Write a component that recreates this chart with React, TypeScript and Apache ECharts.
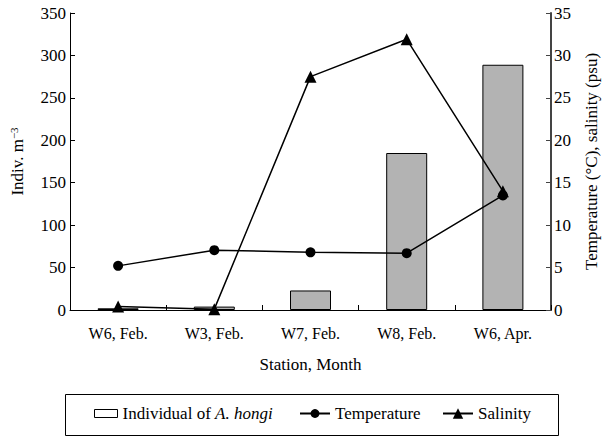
import React, { useEffect, useRef } from "react";
import * as echarts from "echarts";

const categories = ["W6, Feb.", "W3, Feb.", "W7, Feb.", "W8, Feb.", "W6, Apr."];
const individuals = [2, 4, 23, 185, 289];
const temperature = [5.2, 7.05, 6.8, 6.7, 13.5];
const salinity = [0.4, 0.1, 27.5, 31.9, 14.0];
const leftTicks = { min: 0, max: 350, interval: 50 };
const rightTicks = { min: 0, max: 35, interval: 5 };

const BAR_NAME = "Individual of A. hongi";
const FONT = "Liberation Serif";

export default function App() {
  const ref = useRef<HTMLDivElement>(null);
  useEffect(() => {
    if (!ref.current) return;
    const chart = echarts.init(ref.current, undefined, { renderer: "svg" });
    const txt = { fontFamily: FONT, fontSize: 17, color: "#000" };
    chart.setOption({
      animation: false,
      backgroundColor: "#fff",
      grid: { left: 66, right: 48, top: 13, bottom: 128, containLabel: false },
      xAxis: {
        type: "category",
        data: categories,
        boundaryGap: true,
        name: "Station, Month",
        nameLocation: "middle",
        nameGap: 46,
        nameTextStyle: { ...txt, lineHeight: 17 },
        axisLine: { lineStyle: { color: "#000", width: 1 } },
        axisTick: { show: true, inside: true, length: 5, interval: 0, alignWithLabel: false, lineStyle: { color: "#000" } },
        axisLabel: { ...txt, fontSize: 16, margin: 15, interval: 0, lineHeight: 17 },
        splitLine: { show: false },
      },
      yAxis: [
        {
          type: "value",
          min: leftTicks.min,
          max: leftTicks.max,
          interval: leftTicks.interval,
          position: "left",
          name: "{a|Indiv. m}{s|−3}",
          nameLocation: "middle",
          nameRotate: 90,
          nameGap: 43,
          nameTextStyle: {
            ...txt,
            rich: {
              a: { fontFamily: FONT, fontSize: 17, color: "#000" },
              s: { fontFamily: FONT, fontSize: 11, color: "#000", verticalAlign: "top", padding: [0, 0, 8, 0] },
            },
          },
          axisLine: { show: true, lineStyle: { color: "#000", width: 1 } },
          axisTick: { show: true, inside: true, length: 5, lineStyle: { color: "#000" } },
          axisLabel: { ...txt, margin: 4 },
          splitLine: { show: false },
        },
        {
          type: "value",
          min: rightTicks.min,
          max: rightTicks.max,
          interval: rightTicks.interval,
          position: "right",
          name: "Temperature (°C), salinity (psu)",
          nameLocation: "middle",
          nameRotate: 90,
          nameGap: 32,
          nameTextStyle: { ...txt },
          axisLine: { show: true, lineStyle: { color: "#444", width: 2 } },
          axisTick: { show: true, inside: true, length: 5, lineStyle: { color: "#444" } },
          axisLabel: { ...txt, margin: 3 },
          splitLine: { show: false },
        },
      ],
      legend: [
        {
          data: [{ name: BAR_NAME, icon: "rect", itemStyle: { color: "#fff", borderColor: "#000", borderWidth: 1 } }],
          left: 94,
          top: 405,
          padding: 0,
          itemWidth: 23,
          itemHeight: 8,
          selectedMode: false,
          formatter: () => "{n|Individual of }{i|A. hongi}",
          textStyle: {
            ...txt,
            rich: {
              n: { fontFamily: FONT, fontSize: 17, color: "#000" },
              i: { fontFamily: FONT, fontSize: 17, color: "#000", fontStyle: "italic" },
            },
          },
        },
        {
          data: ["Temperature"],
          left: 299,
          top: 405,
          padding: 0,
          itemWidth: 30,
          itemHeight: 11,
          selectedMode: false,
          textStyle: { ...txt },
        },
        {
          data: ["Salinity"],
          left: 442,
          top: 405,
          padding: 0,
          itemWidth: 30,
          itemHeight: 13,
          selectedMode: false,
          textStyle: { ...txt },
        },
      ],
      graphic: [
        {
          type: "rect",
          shape: { x: 65.5, y: 394.5, width: 493, height: 41 },
          style: { fill: "none", stroke: "#000", lineWidth: 1 },
          silent: true,
        },
      ],
      series: [
        {
          name: BAR_NAME,
          type: "bar",
          yAxisIndex: 0,
          data: individuals,
          barWidth: 41,
          itemStyle: { color: "#b3b3b3", borderColor: "#000", borderWidth: 1 },
          z: 1,
        },
        {
          name: "Temperature",
          type: "line",
          yAxisIndex: 1,
          data: temperature,
          symbol: "circle",
          symbolSize: 10,
          lineStyle: { color: "#000", width: 1.5 },
          itemStyle: { color: "#000" },
          z: 3,
        },
        {
          name: "Salinity",
          type: "line",
          yAxisIndex: 1,
          data: salinity,
          symbol: "triangle",
          symbolSize: 12,
          lineStyle: { color: "#000", width: 1.5 },
          itemStyle: { color: "#000" },
          z: 3,
        },
      ],
    });
    return () => chart.dispose();
  }, []);
  return (
    <div
      ref={ref}
      style={{ position: "fixed", left: 0, top: 0, width: 608, height: 438, background: "#fff" }}
    />
  );
}
